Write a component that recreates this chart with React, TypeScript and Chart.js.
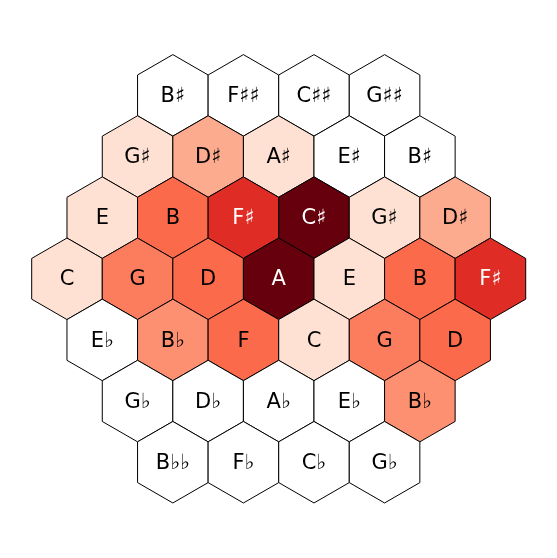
import React, { useEffect, useRef } from 'react';
import { Chart, registerables } from 'chart.js';

Chart.register(...registerables);

// Tonnetz rows, top to bottom
const noteRows: string[][] = [
  ['B♯', 'F♯♯', 'C♯♯', 'G♯♯'],
  ['G♯', 'D♯', 'A♯', 'E♯', 'B♯'],
  ['E', 'B', 'F♯', 'C♯', 'G♯', 'D♯'],
  ['C', 'G', 'D', 'A', 'E', 'B', 'F♯'],
  ['E♭', 'B♭', 'F', 'C', 'G', 'D'],
  ['G♭', 'D♭', 'A♭', 'E♭', 'B♭'],
  ['B♭♭', 'F♭', 'C♭', 'G♭'],
];

// Normalised weights (null = empty cell)
const valueRows: (number | null)[][] = [
  [null, null, null, null],
  [0.12, 0.3, 0.12, null, null],
  [0.12, 0.5, 0.68, 1.0, 0.12, 0.3],
  [0.12, 0.44, 0.5, 1.0, 0.12, 0.5, 0.68],
  [null, 0.38, 0.5, 0.12, 0.44, 0.5],
  [null, null, null, null, 0.38],
  [null, null, null, null],
];

const REDS: number[][] = [
  [255, 245, 240], [254, 224, 210], [252, 187, 161], [252, 146, 114], [251, 106, 74],
  [239, 59, 44], [203, 24, 29], [165, 15, 21], [103, 0, 13],
];

function redsColor(v: number | null): string {
  if (v === null || v === undefined) return '#ffffff';
  const t = Math.max(0, Math.min(1, v)) * 8;
  const i = Math.min(7, Math.floor(t));
  const f = t - i;
  const a = REDS[i], b = REDS[i + 1];
  const c = a.map((av, k) => Math.round(av + (b[k] - av) * f));
  return `rgb(${c[0]},${c[1]},${c[2]})`;
}

const S3 = Math.sqrt(3);

type Cell = { x: number; y: number; label: string; value: number | null };

function buildCells(): Cell[] {
  const cells: Cell[] = [];
  const mid = (noteRows.length - 1) / 2;
  noteRows.forEach((row, r) => {
    const n = row.length;
    row.forEach((label, i) => {
      cells.push({ x: (i - (n - 1) / 2) * S3, y: (mid - r) * 1.5, label, value: valueRows[r][i] });
    });
  });
  return cells;
}

const hexPlugin = {
  id: 'hexPlugin',
  afterDatasetsDraw(chart: any) {
    const ctx = chart.ctx as CanvasRenderingContext2D;
    const xs = chart.scales.x, ys = chart.scales.y;
    const data = chart.data.datasets[0].data as Cell[];
    ctx.save();
    data.forEach((c) => {
      ctx.beginPath();
      for (let k = 0; k < 6; k++) {
        const ang = (Math.PI / 180) * (90 + 60 * k);
        const px = xs.getPixelForValue(c.x + Math.cos(ang));
        const py = ys.getPixelForValue(c.y + Math.sin(ang));
        if (k === 0) ctx.moveTo(px, py); else ctx.lineTo(px, py);
      }
      ctx.closePath();
      ctx.fillStyle = redsColor(c.value);
      ctx.fill();
      ctx.lineWidth = 1;
      ctx.strokeStyle = '#000000';
      ctx.stroke();
    });
    ctx.font = '21px "DejaVu Sans"';
    ctx.textAlign = 'center';
    ctx.textBaseline = 'alphabetic';
    data.forEach((c) => {
      const px = xs.getPixelForValue(c.x);
      const py = ys.getPixelForValue(c.y);
      ctx.fillStyle = c.value !== null && c.value >= 0.6 ? '#ffffff' : '#000000';
      ctx.fillText(c.label, px, py + 6.7);
    });
    ctx.restore();
  },
};

export default function App() {
  const ref = useRef<HTMLCanvasElement | null>(null);
  useEffect(() => {
    if (!ref.current) return;
    const cells = buildCells();
    const chart = new Chart(ref.current, {
      type: 'scatter',
      data: {
        datasets: [{ data: cells as any, pointRadius: 0, pointHoverRadius: 0, showLine: false }],
      },
      options: {
        animation: false,
        responsive: false,
        devicePixelRatio: 1,
        layout: { padding: 0 },
        plugins: { legend: { display: false }, tooltip: { enabled: false } },
        scales: {
          x: { type: 'linear', display: false, min: -6.84, max: 6.83, bounds: 'data' },
          y: { type: 'linear', display: false, min: -6.85, max: 6.84, bounds: 'data' },
        },
      },
      plugins: [hexPlugin],
    });
    return () => chart.destroy();
  }, []);
  return (
    <div style={{ position: 'absolute', left: 0, top: 0, width: 557, height: 558, background: '#ffffff' }}>
      <canvas ref={ref} width={557} height={558} />
    </div>
  );
}
